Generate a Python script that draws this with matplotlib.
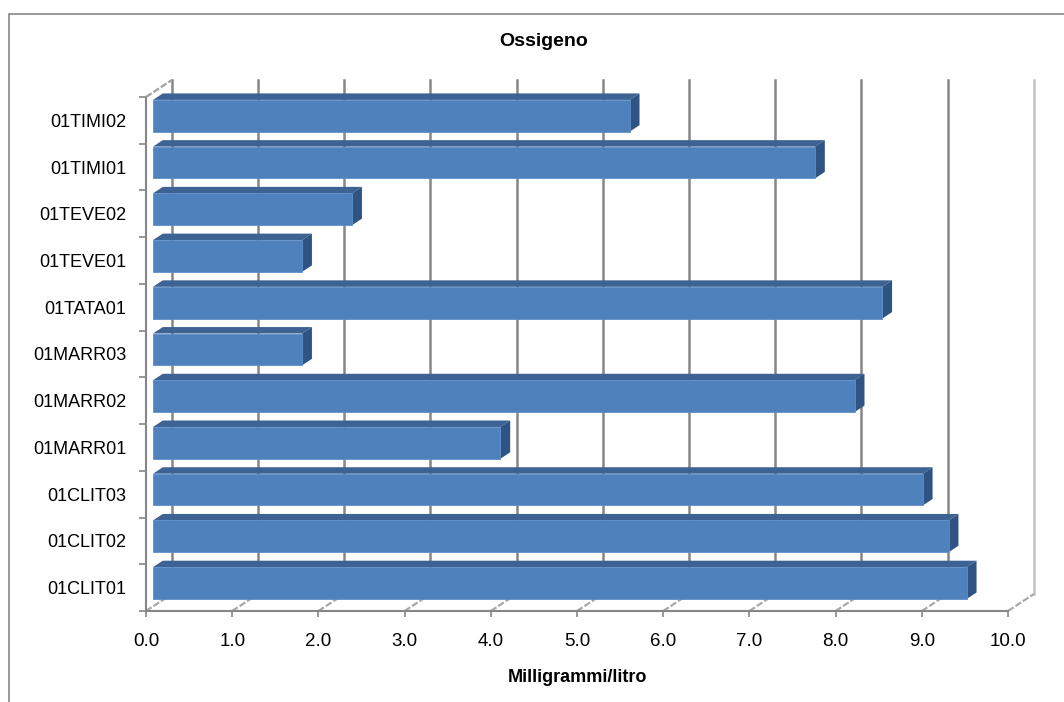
import matplotlib

matplotlib.use("Agg")

import matplotlib.pyplot as plt
from matplotlib.patches import Polygon, Rectangle

plt.rcParams["font.family"] = ["Liberation Sans", "DejaVu Sans"]

STAZIONI = ["01CLIT01", "01CLIT02", "01CLIT03", "01MARR01", "01MARR02", "01MARR03",
            "01TATA01", "01TEVE01", "01TEVE02", "01TIMI01", "01TIMI02"]
OSSIGENO = [9.44, 9.23, 8.93, 4.03, 8.14, 1.73, 8.46, 1.73, 2.31, 7.68, 5.53]
TICKS_X = [0, 1, 2, 3, 4, 5, 6, 7, 8, 9, 10]

BLU = "#4f81bd"
BLU_TOP = "#3c6393"
BLU_LATO = "#2f5382"
GRIGIO = "#868686"

# profondita' della vista 3d in unita' dati
DX = 0.30
DY = 0.364
F0, F1 = 0.27, 0.65
H = 0.68


def main() -> None:
    fig = plt.figure(figsize=(10.64, 7.02), dpi=100)
    W, Hp = 1064, 702
    ax = fig.add_axes([146 / W, 1 - 611 / Hp, (1008 - 146) / W, (611 - 97) / Hp])
    ax.set_xlim(0, 10)
    ax.set_ylim(-0.5, len(STAZIONI) - 0.5)
    for s in ax.spines.values():
        s.set_visible(False)

    ybot, ytop = -0.5, len(STAZIONI) - 0.5

    # griglia sul piano di fondo
    for t in TICKS_X:
        col = "#c4c4c4" if t == 10 else GRIGIO
        ax.plot([t + DX, t + DX], [ybot + DY, ytop + DY], color=col, lw=1.8,
                clip_on=False, zorder=1)
        # linee del pavimento
        ax.plot([t, t + DX], [ybot, ybot + DY], color="#a8a8a8", lw=1.6,
                ls=(0, (3, 1)), clip_on=False, zorder=1)
    # parete sinistra e assi frontali
    ax.plot([0, 0], [ybot, ytop], color=GRIGIO, lw=1.5, clip_on=False, zorder=2)
    ax.plot([0, DX], [ytop, ytop + DY], color="#a0a0a0", lw=1.6, ls=(0, (3, 1)),
            clip_on=False, zorder=2)
    ax.plot([0, 10], [ybot, ybot], color=GRIGIO, lw=1.5, clip_on=False, zorder=2)

    # barre 3d
    for i, v in enumerate(OSSIGENO):
        b, t = i - H / 2, i + H / 2
        x0, y0 = F0 * DX, F0 * DY
        x1, y1 = F1 * DX, F1 * DY
        top = [(x0, t + y0), (v + x0, t + y0), (v + x1, t + y1), (x1, t + y1)]
        side = [(v + x0, b + y0), (v + x0, t + y0), (v + x1, t + y1), (v + x1, b + y1)]
        ax.add_patch(Polygon(top, closed=True, facecolor=BLU_TOP, edgecolor="none",
                             zorder=3, clip_on=False))
        ax.add_patch(Polygon(side, closed=True, facecolor=BLU_LATO, edgecolor="none",
                             zorder=3, clip_on=False))
        ax.add_patch(Rectangle((x0, b + y0), v, H, facecolor=BLU,
                               edgecolor="#5f8ec8", lw=0.6, zorder=4, clip_on=False))

    ax.set_xticks(TICKS_X)
    ax.set_xticklabels([f"{t:.1f}" for t in TICKS_X], fontsize=13.5)
    ax.tick_params(axis="x", length=4, width=1.2, color=GRIGIO, pad=12)
    ax.set_yticks(range(len(STAZIONI)))
    ax.set_yticklabels(STAZIONI, fontsize=13)
    ax.tick_params(axis="y", which="major", length=0, pad=14)
    ax.set_yticks([i + 0.5 for i in range(-1, len(STAZIONI))], minor=True)
    ax.tick_params(axis="y", which="minor", length=5, width=1.2, color=GRIGIO)

    fig.text(544 / W, 1 - 41 / Hp, "Ossigeno", ha="center", va="center",
             fontsize=14, fontweight="bold")
    fig.text(577 / W, 1 - 678 / Hp, "Milligrammi/litro", ha="center", va="center",
             fontsize=13, fontweight="bold")

    fig.patches.append(Rectangle((9 / W, -0.05), 1.1, 1 - 14 / Hp + 0.05,
                                 transform=fig.transFigure, fill=False,
                                 edgecolor=GRIGIO, lw=1.2))

    fig.savefig("out.png", dpi=100)
    plt.close(fig)


if __name__ == "__main__":
    main()
